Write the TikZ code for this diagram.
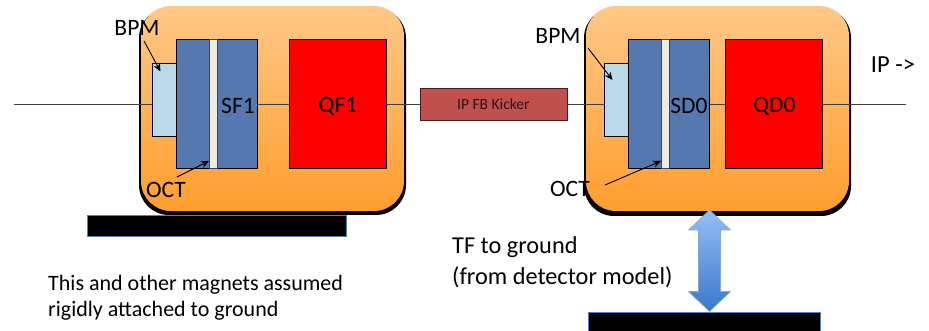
\documentclass[tikz,border=0pt]{standalone}
\usepackage{fontspec}
\setmainfont{Carlito}
\usetikzlibrary{arrows.meta,shapes.arrows}
\definecolor{magblue}{HTML}{5579AE}
\definecolor{bpmblue}{HTML}{BCD9EA}
\definecolor{octcream}{HTML}{EEECE1}
\definecolor{kick}{HTML}{C0504D}
\definecolor{kickedge}{HTML}{4A1C1A}
\definecolor{barblue}{HTML}{4F81BD}
\tikzset{
  px/.style={x=1pt,y=-1pt},
  girdershadow/.style={fill=black,rounded corners=30pt,draw=none},
  girder/.style={top color={rgb,255:red,255;green,200;blue,135},bottom color={rgb,255:red,255;green,157;blue,45},rounded corners=30pt,draw=none},
  block/.style={draw=black,line width=0.7pt,inner sep=0pt,anchor=north west},
  magnet/.style={block,fill=magblue},
  bpmbox/.style={block,fill=bpmblue},
  octbox/.style={block,fill=octcream,draw=magblue!60!black},
  quad/.style={block,fill=red},
  ground/.style={fill=black,draw=barblue,line width=0.8pt,inner sep=0pt,anchor=north west},
  lbl/.style={font=\fontsize{23.5}{26}\selectfont,inner sep=0pt,text=black},
  beam/.style={draw=black!75,line width=0.7pt},
  pointer/.style={draw=black,line width=0.9pt,-{Stealth[length=8pt,width=7pt]}},
}
\begin{document}
\begin{tikzpicture}[px]
\useasboundingbox (0,0) rectangle (929,331);
% beam ends
\coordinate (bstart) at (14,104);
\coordinate (bend) at (906,104);
% girders
\fill[girdershadow] (139,8) rectangle (406,215);
\path[girder] (141,6) rectangle (404,211);
\fill[girdershadow] (584,8) rectangle (851,216);
\path[girder] (586,6) rectangle (849,211);
% left module
\node[bpmbox,minimum width=24pt,minimum height=73pt] (bpmL) at (151.5,63.5) {};
\node[magnet,minimum width=81pt,minimum height=129pt] (sf) at (176,39.5) {};
\node[octbox,minimum width=8pt,minimum height=129pt] (octL) at (208.5,39.5) {};
\node[quad,minimum width=97pt,minimum height=129pt] (qf) at (288.5,39.5) {};
% right module
\node[bpmbox,minimum width=24pt,minimum height=73pt] (bpmR) at (604,63.5) {};
\node[magnet,minimum width=81pt,minimum height=129pt] (sd) at (628,39.5) {};
\node[octbox,minimum width=8pt,minimum height=129pt] (octR) at (660.5,39.5) {};
\node[quad,minimum width=97pt,minimum height=129pt] (qd) at (725,39.5) {};
% kicker
\node[block,fill=kick,draw=kickedge,minimum width=147pt,minimum height=32pt,font=\fontsize{15.5}{18}\selectfont,text=black!75!kick] (kicker) at (419.5,88) {IP FB Kicker};
% beam
\draw[beam] (bstart) -- (bstart -| bpmL.west);
\draw[beam] (sf.east |- bstart) -- (qf.west |- bstart);
\draw[beam] (qf.east |- bstart) -- (kicker.west |- bstart);
\draw[beam] (kicker.east |- bstart) -- (bpmR.west |- bstart);
\draw[beam] (sd.east |- bstart) -- (qd.west |- bstart);
\draw[beam] (qd.east |- bstart) -- (bend);
% grounds
\node[ground,minimum width=259pt,minimum height=21pt] (gndL) at (87,215) {};
\node[ground,minimum width=232pt,minimum height=24pt] (gndR) at (587.5,312) {};
% labels
\node[lbl] (tBPML) at (137,28) {BPM};
\node[lbl] (tOCTL) at (166,190) {OCT};
\node[lbl] (tSF) at (238,106) {SF1};
\node[lbl] (tQF) at (338,106) {QF1};
\node[lbl] (tBPMR) at (558,36) {BPM};
\node[lbl] (tOCTR) at (570,189) {OCT};
\node[lbl] (tSD) at (689,106) {SD0};
\node[lbl] (tQD) at (774.5,106) {QD0};
\node[lbl,font=\fontsize{24.5}{26}\selectfont] (tIP) at (893,65) {IP ->};
\node[lbl,align=left,anchor=west,font=\fontsize{24.3}{31}\selectfont] (tTF) at (452,262.5) {TF to ground\\(from detector model)};
\node[lbl,align=left,anchor=west,font=\fontsize{22}{26}\selectfont] (tThis) at (48,298) {This and other magnets assumed\\rigidly attached to ground};
% pointers
\coordinate (pBL) at (144,41);
\coordinate (pBLe) at (160.5,71.5);
\coordinate (pOL) at (177,177);
\coordinate (pOLe) at (209,161);
\coordinate (pBR) at (588,48);
\coordinate (pBRe) at (612.5,80);
\coordinate (pOR) at (605,185);
\coordinate (pORe) at (661,161);
\draw[pointer] (pBL) -- (pBLe);
\draw[pointer] (pOL) -- (pOLe);
\draw[pointer] (pBR) -- (pBRe);
\draw[pointer] (pOR) -- (pORe);
% double arrow
\path[top color={rgb,255:red,150;green,190;blue,250},bottom color={rgb,255:red,58;green,120;blue,200},draw=barblue!70!white,line width=0.6pt]
  (709.5,210) -- (730.5,230) -- (720.5,230) -- (720.5,291.5) -- (730.5,291.5) -- (709.5,311.5) -- (688.5,291.5) -- (698.5,291.5) -- (698.5,230) -- (688.5,230) -- cycle;
\end{tikzpicture}
\end{document}
